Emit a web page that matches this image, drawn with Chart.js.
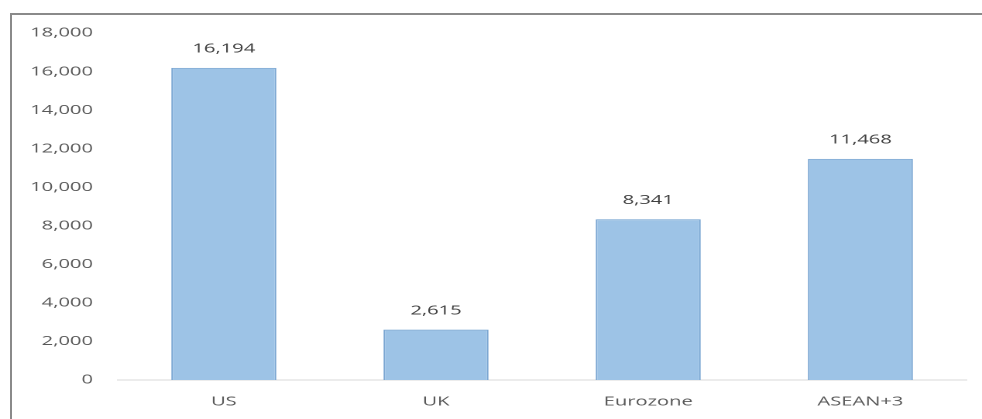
<!DOCTYPE html>
<html>
<head>
<meta charset="utf-8">
<script src="https://cdn.jsdelivr.net/npm/chart.js@4/dist/chart.umd.min.js"></script>
<style>
	html, body { margin: 0; padding: 0; background: #fff; overflow: hidden; }
	.frame {
		position: absolute; left: 10px; top: 13px;
		width: 1100px; height: 600px;
		border-top: 2px solid #8a8a8a;
		border-left: 2px solid #8a8a8a;
	}
	/* chart is drawn narrow and stretched wide */
	.container {
		position: absolute; left: 0; top: 0;
		width: 634px; height: 419px;
		transform: scaleX(1.5489);
		transform-origin: 0 0;
	}
</style>
</head>
<body>
<div class="frame"></div>
<div class="container"><canvas id="myChart"></canvas></div>
<script>

const regions = ['US', 'UK', 'Eurozone', 'ASEAN+3'];
const values = [16194, 2615, 8341, 11468];
const y_ticks = [0, 2000, 4000, 6000, 8000, 10000, 12000, 14000, 16000, 18000];

const font_family = '"Open Sans", sans-serif';


function formatNumber(value)
{
	return value.toLocaleString('en-US');
}


// writes each bar's value above it
const value_labels = {
	id: 'value_labels',

	afterDatasetsDraw(chart)
	{
		const ctx = chart.ctx;
		const meta = chart.getDatasetMeta(0);

		ctx.save();
		ctx.font = '13px ' + font_family;
		ctx.fillStyle = '#404040';
		ctx.textAlign = 'center';
		ctx.textBaseline = 'middle';

		meta.data.forEach((bar, i) => {
			ctx.fillText(formatNumber(values[i]), bar.x, bar.y - 19);
		});

		ctx.restore();
	}
};


window.onload = function(){

	const canvas = document.getElementById('myChart').getContext('2d');

	new Chart(canvas, {
		type: 'bar',

		data: {
			labels: regions,
			datasets: [{
				data: values,
				backgroundColor: '#9dc3e6',
				borderColor: '#7aa6d2',
				borderWidth: 1,
				categoryPercentage: 1,
				barPercentage: 0.495,
			}],
		},

		options: {
			responsive: true,
			maintainAspectRatio: false,
			devicePixelRatio: 2,
			animation: false,
			layout: {
				padding: { top: 33, right: 10, left: 0, bottom: 0 },
			},
			plugins: {
				legend: { display: false },
				tooltip: { enabled: false },
			},
			scales: {
				x: {
					grid: { display: false, drawTicks: false },
					border: { display: true, color: '#d9d9d9', width: 1 },
					ticks: {
						color: '#595959',
						font: { family: font_family, size: 13 },
						padding: 14,
					},
					afterFit: (scale) => { scale.height = 39; },
				},
				y: {
					min: 0,
					max: 18000,
					grid: { display: false, drawTicks: false },
					border: { display: false },
					afterBuildTicks: (scale) => { scale.ticks = y_ticks.map((v) => ({ value: v })); },
					afterFit: (scale) => { scale.width = 76; },
					ticks: {
						color: '#595959',
						font: { family: font_family, size: 13 },
						padding: 16,
						callback: (value) => formatNumber(value),
					},
				},
			},
		},

		plugins: [value_labels],
	});

}

</script>
</body>
</html>
